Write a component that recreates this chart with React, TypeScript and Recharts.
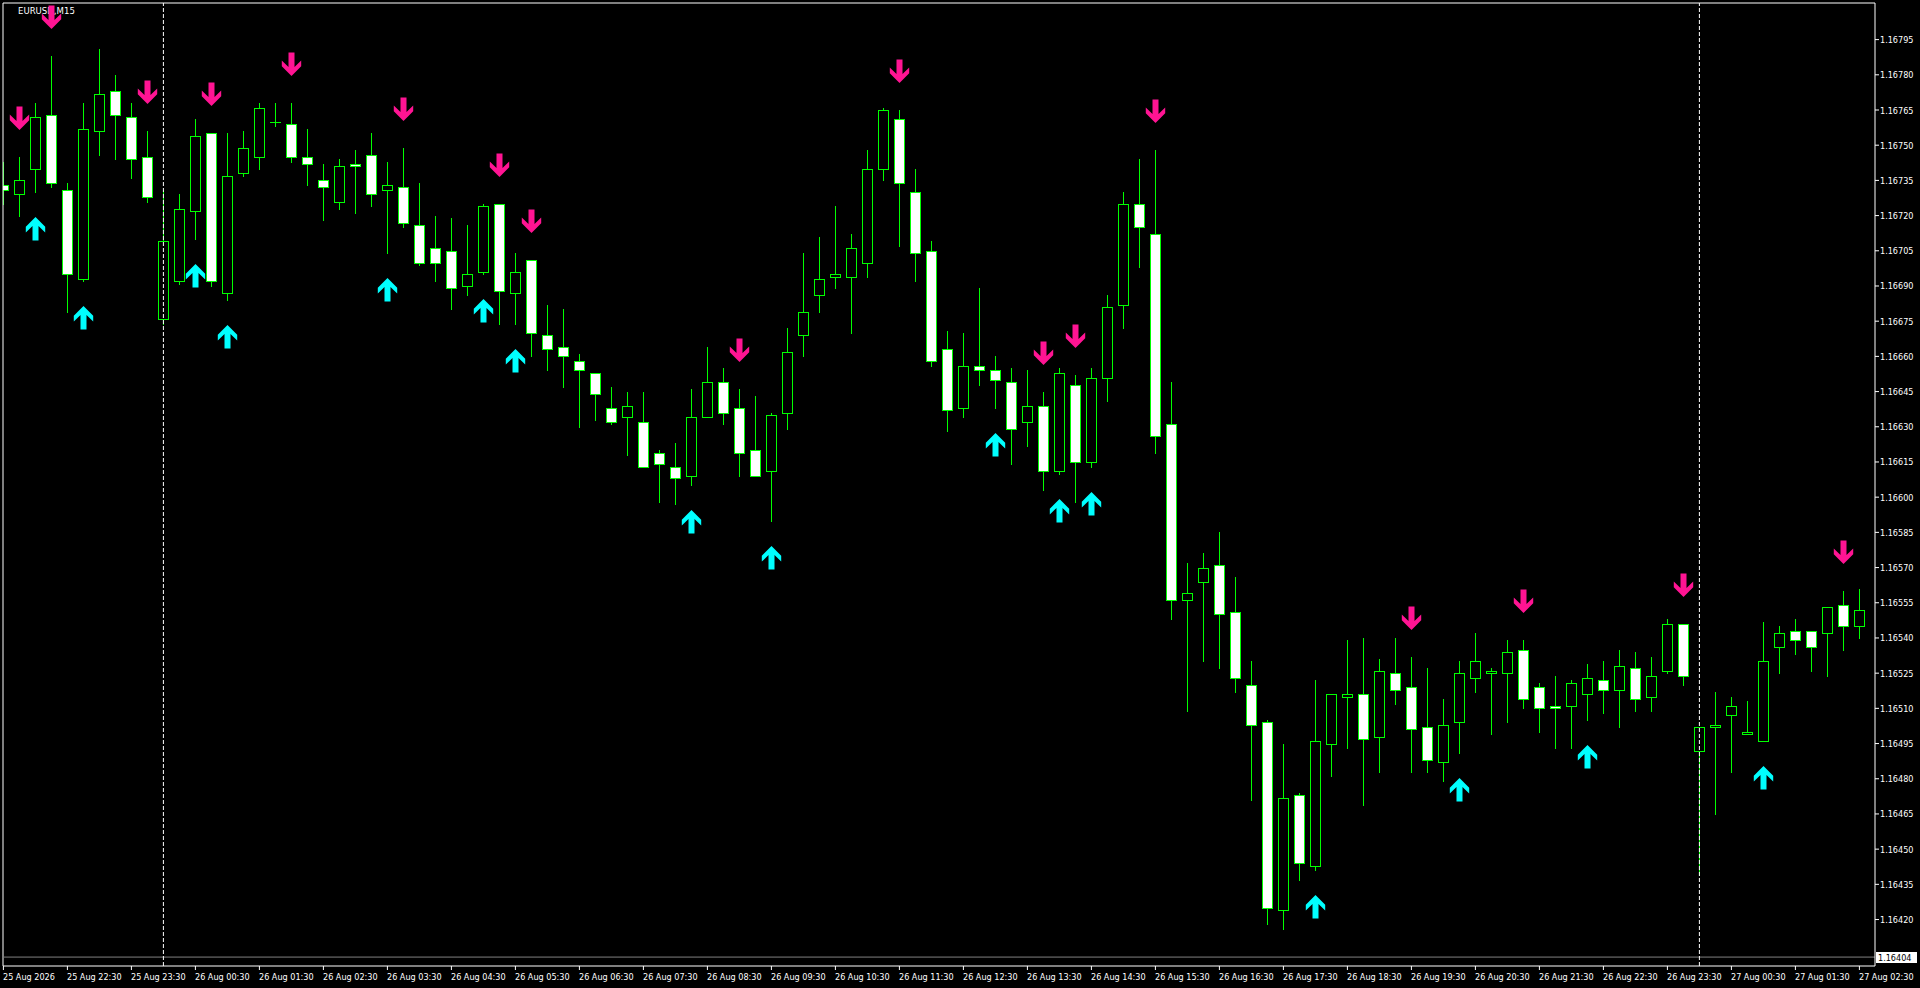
import React from 'react';
import { Bar, ComposedChart, ReferenceLine, Scatter, XAxis, YAxis } from 'recharts';

// EURUSD M15, 25 Aug 21:30 -> 27 Aug 02:30, one entry per bar
const opens = [
  1.16733, 1.16729, 1.1674, 1.16763, 1.16731, 1.16693, 1.16756, 1.16773, 1.16762, 1.16745,
  1.16676, 1.16692, 1.16722, 1.16755, 1.16687, 1.16738, 1.16745, 1.1676, 1.16759, 1.16745,
  1.16735, 1.16726, 1.16742, 1.16746, 1.16731, 1.16732, 1.16716, 1.16706, 1.16705, 1.1669,
  1.16696, 1.16725, 1.16687, 1.16701, 1.16669, 1.16664, 1.16658, 1.16653, 1.16638, 1.16634,
  1.16632, 1.16619, 1.16613, 1.16609, 1.16634, 1.16649, 1.16638, 1.1662, 1.16611, 1.16636,
  1.16669, 1.16686, 1.16694, 1.16694, 1.167, 1.1674, 1.16761, 1.1673, 1.16705, 1.16663,
  1.16638, 1.16656, 1.16654, 1.16649, 1.16632, 1.16639, 1.16611, 1.16648, 1.16615, 1.16651,
  1.16682, 1.16725, 1.16712, 1.16631, 1.16556, 1.16564, 1.16571, 1.16551, 1.1652, 1.16504,
  1.16424, 1.16473, 1.16443, 1.16495, 1.16515, 1.16516, 1.16498, 1.16525, 1.16519, 1.16502,
  1.16487, 1.16504, 1.16523, 1.16525, 1.16525, 1.16535, 1.16519, 1.16511, 1.16511, 1.16516,
  1.16522, 1.16518, 1.16527, 1.16515, 1.16526, 1.16546, 1.16492, 1.16502, 1.16507, 1.16499,
  1.16496, 1.16536, 1.16543, 1.16543, 1.16542, 1.16554, 1.16545,
];
const highs = [
  1.16743, 1.16745, 1.16768, 1.16788, 1.16734, 1.16768, 1.16791, 1.1678, 1.16768, 1.16756,
  1.16731, 1.16729, 1.16761, 1.16755, 1.16755, 1.16756, 1.16768, 1.16768, 1.16768, 1.16757,
  1.16742, 1.16744, 1.16748, 1.16755, 1.16743, 1.16749, 1.16734, 1.1672, 1.16719, 1.16716,
  1.16725, 1.16725, 1.16704, 1.16701, 1.16682, 1.1668, 1.16661, 1.16653, 1.16647, 1.16645,
  1.16645, 1.1662, 1.16623, 1.16646, 1.16664, 1.16655, 1.16646, 1.16643, 1.16636, 1.16672,
  1.16704, 1.16711, 1.16724, 1.16712, 1.16748, 1.16766, 1.16765, 1.1674, 1.16709, 1.16671,
  1.1667, 1.16689, 1.1666, 1.16655, 1.16654, 1.16645, 1.16655, 1.16652, 1.16655, 1.16686,
  1.1673, 1.16744, 1.16748, 1.16649, 1.16572, 1.16576, 1.16585, 1.16566, 1.1653, 1.16505,
  1.16495, 1.16474, 1.16522, 1.16516, 1.16539, 1.1654, 1.16531, 1.1654, 1.16532, 1.16527,
  1.16514, 1.1653, 1.16542, 1.16527, 1.16539, 1.16539, 1.16521, 1.16524, 1.16522, 1.16529,
  1.1653, 1.16535, 1.16534, 1.16532, 1.16548, 1.16546, 1.16502, 1.16517, 1.16515, 1.16513,
  1.16547, 1.16545, 1.16548, 1.16543, 1.16553, 1.1656, 1.16561,
];
const lows = [
  1.16725, 1.1672, 1.1673, 1.16732, 1.16679, 1.16692, 1.16746, 1.16744, 1.16736, 1.16726,
  1.16674, 1.16691, 1.1671, 1.1669, 1.16684, 1.16737, 1.1674, 1.16758, 1.16743, 1.16733,
  1.16718, 1.16723, 1.16721, 1.16724, 1.16704, 1.16715, 1.16699, 1.16692, 1.1668, 1.16686,
  1.16695, 1.16674, 1.16674, 1.1666, 1.16654, 1.16647, 1.1663, 1.16633, 1.16631, 1.16618,
  1.16613, 1.16598, 1.16597, 1.16605, 1.16634, 1.16631, 1.16609, 1.16609, 1.1659, 1.16629,
  1.1666, 1.16679, 1.16689, 1.1667, 1.16694, 1.16735, 1.16707, 1.16692, 1.16656, 1.16628,
  1.16634, 1.16648, 1.16638, 1.16614, 1.16622, 1.16603, 1.1661, 1.16598, 1.16613, 1.16641,
  1.16672, 1.16698, 1.16619, 1.16548, 1.16509, 1.1653, 1.16527, 1.16517, 1.16471, 1.16418,
  1.16416, 1.16437, 1.16441, 1.16481, 1.16493, 1.16469, 1.16483, 1.16512, 1.16483, 1.16483,
  1.16479, 1.16491, 1.16517, 1.16499, 1.16504, 1.1651, 1.165, 1.16493, 1.16493, 1.16505,
  1.16508, 1.16502, 1.16509, 1.16509, 1.16525, 1.1652, 1.16439, 1.16465, 1.16483, 1.16499,
  1.16496, 1.16525, 1.16533, 1.16526, 1.16524, 1.16535, 1.1654,
];
const closes = [
  1.16731, 1.16735, 1.16762, 1.16734, 1.16695, 1.16757, 1.16772, 1.16763, 1.16744, 1.16728,
  1.16709, 1.16723, 1.16754, 1.16692, 1.16737, 1.16749, 1.16766, 1.1676, 1.16745, 1.16742,
  1.16732, 1.16741, 1.16741, 1.16729, 1.16733, 1.16717, 1.167, 1.167, 1.16689, 1.16695,
  1.16724, 1.16688, 1.16696, 1.1667, 1.16663, 1.1666, 1.16654, 1.16644, 1.16632, 1.16639,
  1.16613, 1.16614, 1.16608, 1.16634, 1.16649, 1.16636, 1.16619, 1.16609, 1.16635, 1.16662,
  1.16679, 1.16693, 1.16695, 1.16706, 1.1674, 1.16765, 1.16734, 1.16704, 1.16658, 1.16637,
  1.16656, 1.16654, 1.1665, 1.16629, 1.16639, 1.16611, 1.16653, 1.16615, 1.16651, 1.16681,
  1.16725, 1.16715, 1.16626, 1.16556, 1.16559, 1.1657, 1.1655, 1.16523, 1.16503, 1.16425,
  1.16472, 1.16444, 1.16496, 1.16516, 1.16516, 1.16497, 1.16526, 1.16518, 1.16501, 1.16488,
  1.16503, 1.16525, 1.1653, 1.16526, 1.16534, 1.16514, 1.1651, 1.1651, 1.16521, 1.16523,
  1.16518, 1.16528, 1.16514, 1.16524, 1.16546, 1.16524, 1.16502, 1.16503, 1.16511, 1.165,
  1.1653, 1.16542, 1.16539, 1.16536, 1.16553, 1.16545, 1.16552,
];

// one label per hour (every 4th bar)
const timeLabels = [
  '25 Aug 2026', '25 Aug 22:30', '25 Aug 23:30', '26 Aug 00:30', '26 Aug 01:30', '26 Aug 02:30',
  '26 Aug 03:30', '26 Aug 04:30', '26 Aug 05:30', '26 Aug 06:30', '26 Aug 07:30', '26 Aug 08:30',
  '26 Aug 09:30', '26 Aug 10:30', '26 Aug 11:30', '26 Aug 12:30', '26 Aug 13:30', '26 Aug 14:30',
  '26 Aug 15:30', '26 Aug 16:30', '26 Aug 17:30', '26 Aug 18:30', '26 Aug 19:30', '26 Aug 20:30',
  '26 Aug 21:30', '26 Aug 22:30', '26 Aug 23:30', '27 Aug 00:30', '27 Aug 01:30', '27 Aug 02:30',
];
const priceTicks = [
  1.16795, 1.1678, 1.16765, 1.1675, 1.16735, 1.1672, 1.16705, 1.1669, 1.16675, 1.1666,
  1.16645, 1.1663, 1.16615, 1.166, 1.16585, 1.1657, 1.16555, 1.1654, 1.16525, 1.1651,
  1.16495, 1.1648, 1.16465, 1.1645, 1.16435, 1.1642,
];

const sellArrowBars = [1, 3, 9, 13, 18, 25, 31, 33, 46, 56, 65, 67, 72, 88, 95, 105, 115];
const buyArrowBars = [2, 5, 12, 14, 24, 30, 32, 43, 48, 62, 66, 68, 82, 91, 99, 110];
const daySeparators = [10, 106];
const levelPrice = 1.16404;

const bars = opens.map((open, i) => ({
  i,
  open,
  high: highs[i],
  low: lows[i],
  close: closes[i],
}));
const sellArrows = sellArrowBars.map((i) => ({ i, y: highs[i] }));
const buyArrows = buyArrowBars.map((i) => ({ i, y: lows[i] }));
const timeTicks = timeLabels.map((_, k) => k * 4);

const GREEN = '#00ff00';
const PINK = '#ff1493';
const AQUA = '#00ffff';
const FONT = "'DejaVu Sans Condensed', 'Liberation Sans', Arial, sans-serif";

const Candle = (props: any) => {
  const { x, y, width, height, payload } = props;
  if (x == null || y == null || !payload) return null;
  const top = Math.min(y, y + height);
  const h = Math.abs(height);
  const span = payload.high - payload.low;
  const k = span > 0 ? h / span : 0;
  const py = (p: number) => top + (payload.high - p) * k;
  const cx = Math.round(x + width / 2);
  const bTop = Math.round(py(Math.max(payload.open, payload.close)));
  const bBot = Math.round(py(Math.min(payload.open, payload.close)));
  const bear = payload.close < payload.open;
  return (
    <g shapeRendering='crispEdges'>
      <line x1={cx + 0.5} x2={cx + 0.5} y1={Math.round(top)} y2={Math.round(top + h) + 1} stroke={GREEN} />
      {bBot - bTop < 1 ? (
        <line x1={cx - 5} x2={cx + 6} y1={bTop + 0.5} y2={bTop + 0.5} stroke={GREEN} />
      ) : (
        <rect
          x={cx - 4.5}
          y={bTop + 0.5}
          width={10}
          height={bBot - bTop}
          fill={bear ? '#ffffff' : '#000000'}
          stroke={GREEN}
        />
      )}
    </g>
  );
};

// thick arrow, tip at (0,0), body going up (negative y)
const ARROW = [
  [0, 0], [9.7, -9.7], [9.7, -15.6], [3, -8.9], [3, -23.5],
  [-3, -23.5], [-3, -8.9], [-9.7, -15.6], [-9.7, -9.7],
];

const SellArrow = (props: any) => {
  const { cx, cy } = props;
  if (cx == null || cy == null) return null;
  const x = Math.round(cx) + 0.5;
  const tip = Math.round(cy) - 27;
  return <polygon points={ARROW.map(([dx, dy]) => `${x + dx},${tip + dy}`).join(' ')} fill={PINK} />;
};

const BuyArrow = (props: any) => {
  const { cx, cy } = props;
  if (cx == null || cy == null) return null;
  const x = Math.round(cx) + 0.5;
  const tip = Math.round(cy) + 25;
  return <polygon points={ARROW.map(([dx, dy]) => `${x + dx},${tip - dy}`).join(' ')} fill={AQUA} />;
};

const PriceTick = (props: any) => {
  const { x, y, payload } = props;
  return (
    <text x={x + 1} y={y + 3.5} fill='#ffffff' fontSize={9} fontFamily={FONT} textAnchor='start'>
      {payload.value.toFixed(5)}
    </text>
  );
};

const TimeTick = (props: any) => {
  const { x, y, payload } = props;
  return (
    <text x={Math.round(x)} y={y + 9.5} fill='#ffffff' fontSize={9} fontFamily={FONT} textAnchor='start'>
      {timeLabels[Math.round(payload.value / 4)]}
    </text>
  );
};

const LevelLabel = (props: any) => {
  const vb = props.viewBox;
  if (!vb) return null;
  const x = vb.x + vb.width + 1;
  const y = Math.round(vb.y);
  return (
    <g>
      <rect x={x} y={y - 5.5} width={41} height={11} fill='#ffffff' shapeRendering='crispEdges' />
      <text x={x + 2} y={y + 3.5} fill='#000000' fontSize={9} fontFamily={FONT}>
        {levelPrice.toFixed(5)}
      </text>
    </g>
  );
};

const App = () => {
  return (
    <div style={{ position: 'relative', width: 1920, height: 988, background: '#000000' }}>
      <style>{'body{margin:0;background:#000;}'}</style>
      <svg width={200} height={20} style={{ position: 'absolute', left: 0, top: 0 }}>
        <text x={18} y={14} fill='#ffffff' fontSize={9.5} fontFamily={FONT}>
          EURUSD,M15
        </text>
      </svg>
      <ComposedChart width={1920} height={988} data={bars} margin={{ top: 3, right: 0, left: 3, bottom: 0 }}>
        <XAxis
          dataKey='i'
          type='number'
          domain={[-0.025, 116.975]}
          allowDataOverflow
          ticks={timeTicks}
          interval={0}
          tick={<TimeTick />}
          tickSize={4}
          tickMargin={0}
          tickLine={{ stroke: '#ffffff' }}
          axisLine={{ stroke: '#ffffff' }}
          height={22}
        />
        <YAxis
          orientation='right'
          type='number'
          domain={[1.164002, 1.168106]}
          allowDataOverflow
          ticks={priceTicks}
          interval={0}
          tick={<PriceTick />}
          tickSize={4}
          tickMargin={0}
          tickLine={{ stroke: '#ffffff' }}
          axisLine={{ stroke: '#ffffff' }}
          width={45}
        />
        <ReferenceLine y={1.168106} stroke='#ffffff' ifOverflow='visible' />
        <ReferenceLine x={-0.025} stroke='#ffffff' ifOverflow='visible' />
        <ReferenceLine y={levelPrice} stroke='#808080' label={<LevelLabel />} />
        {daySeparators.map((d) => (
          <ReferenceLine key={d} x={d} stroke='#ffffff' strokeDasharray='4 2' />
        ))}
        <Bar dataKey={(d: any) => [d.low, d.high]} barSize={10} shape={<Candle />} isAnimationActive={false} />
        <Scatter data={sellArrows} dataKey='y' shape={<SellArrow />} isAnimationActive={false} />
        <Scatter data={buyArrows} dataKey='y' shape={<BuyArrow />} isAnimationActive={false} />
      </ComposedChart>
    </div>
  );
};

export default App;
